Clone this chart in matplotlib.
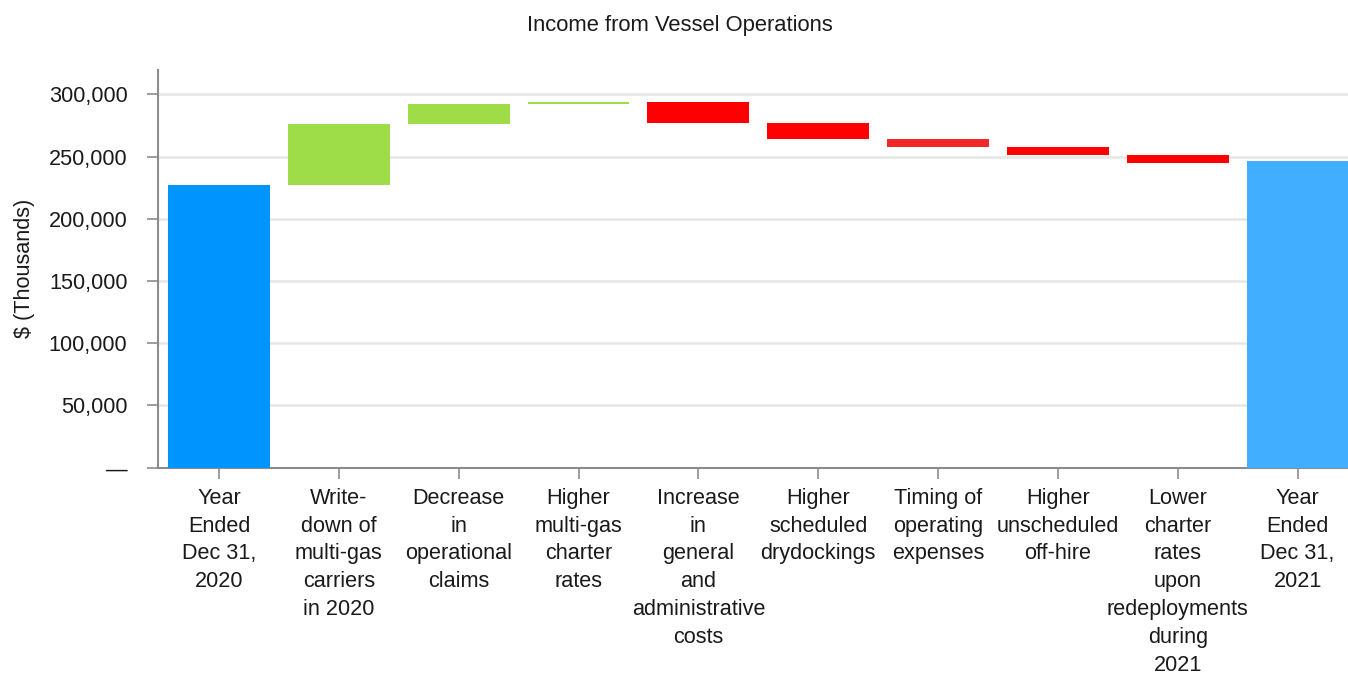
import matplotlib
matplotlib.use("Agg")
import matplotlib.pyplot as plt
from matplotlib.ticker import FuncFormatter
import numpy as np

plt.rcParams['font.family'] = ['Liberation Sans', 'DejaVu Sans']

categories = [
    "Year\nEnded\nDec 31,\n2020",
    "Write-\ndown of\nmulti-gas\ncarriers\nin 2020",
    "Decrease\nin\noperational\nclaims",
    "Higher\nmulti-gas\ncharter\nrates",
    "Increase\nin\ngeneral\nand\nadministrative\ncosts",
    "Higher\nscheduled\ndrydockings",
    "Timing of\noperating\nexpenses",
    "Higher\nunscheduled\noff-hire",
    "Lower\ncharter\nrates\nupon\nredeployments\nduring\n2021",
    "Year\nEnded\nDec 31,\n2021",
]
start_value = 227200
deltas = [49300, 15600, 1600, -17000, -12700, -6300, -6300, -6400]
end_value = 246800
bar_colors = ["#0094FF", "#9EDC48", "#9EDC48", "#9EDC48", "#FF0000",
              "#FF0000", "#F02828", "#FF0000", "#FF0000", "#42AEFF"]
yticks = [0, 50000, 100000, 150000, 200000, 250000, 300000]

W, H = 1348, 675
fig = plt.figure(figsize=(W / 100, H / 100), dpi=100)
ax = fig.add_axes([158 / W, 1 - 467.5 / H, (1348 - 158) / W, (467.5 - 70) / H])

x = np.arange(len(categories))
bottoms = [0]
heights = [start_value]
level = start_value
for d in deltas:
    if d >= 0:
        bottoms.append(level)
        heights.append(d)
    else:
        bottoms.append(level + d)
        heights.append(-d)
    level += d
bottoms.append(0)
heights.append(end_value)

ax.bar(x, heights, bottom=bottoms, width=0.85, color=bar_colors, zorder=3)

ax.set_xlim(-0.509, 9.42)
ax.set_ylim(0, 319600)
ax.set_yticks(yticks)
ax.yaxis.set_major_formatter(FuncFormatter(lambda v, p: "—" if v == 0 else f"{v:,.0f}"))
ax.set_xticks(x)
ax.set_xticklabels(categories, fontsize=15.6, linespacing=1.43, va="top")

ax.grid(axis="y", color="#e6e6e6", linewidth=1.8, zorder=0)
for s in ["top", "right"]:
    ax.spines[s].set_visible(False)
for s in ["left", "bottom"]:
    ax.spines[s].set_color("#8c8c8c")
    ax.spines[s].set_linewidth(1.5)

ax.tick_params(axis="y", length=8, width=1.2, color="#8c8c8c", pad=14,
               labelsize=15.6, labelcolor="#1a1a1a")
ax.tick_params(axis="x", length=8, width=1.2, color="#8c8c8c", pad=6.5,
               labelsize=15.6, labelcolor="#1a1a1a")
ax.set_ylabel("$ (Thousands)", fontsize=15.6, color="#1a1a1a")
ax.yaxis.set_label_coords(-0.103, 0.5)

fig.text(680 / W, 1 - 26 / H, "Income from Vessel Operations", ha="center",
         va="center", fontsize=15.8, color="#1a1a1a")

fig.savefig("out.png", dpi=100)
